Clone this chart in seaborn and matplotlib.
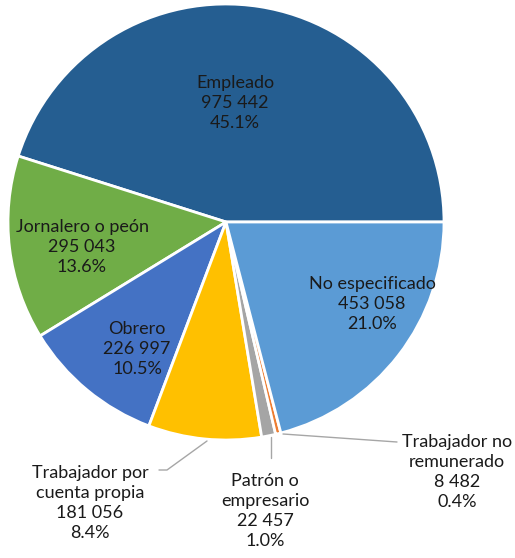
import matplotlib
matplotlib.use("Agg")
import matplotlib.pyplot as plt
import seaborn as sns

categories = ["Empleado", "Jornalero o peón", "Obrero", "Trabajador por\ncuenta propia",
              "Patrón o\nempresario", "Trabajador no\nremunerado", "No especificado"]
values = [975442, 295043, 226997, 181056, 22457, 8482, 453058]
value_labels = ["975 442", "295 043", "226 997", "181 056", "22 457", "8 482", "453 058"]
pct_labels = ["45.1%", "13.6%", "10.5%", "8.4%", "1.0%", "0.4%", "21.0%"]
colors = ["#255E91", "#70AD47", "#4472C4", "#FFC000", "#A5A5A5", "#ED7D31", "#5B9BD5"]

sns.set_style("white")
plt.rcParams["font.family"] = ["Lato", "DejaVu Sans"]

fig = plt.figure(figsize=(5.15, 5.58), dpi=100)
ax = fig.add_axes([0, 0, 1, 1])
R = 218.0
cx, cy = 226.0, 222.0
ax.pie(values, colors=colors, startangle=0, counterclock=True, radius=1.0,
       wedgeprops=dict(edgecolor="white", linewidth=2))
ax.set_xlim(-cx / R, (515 - cx) / R)
ax.set_ylim(-(558 - cy) / R, cy / R)
ax.set_aspect("equal")
ax.axis("off")

def d(px, py):
    return ((px - cx) / R, (cy - py) / R)

pos = [d(235, 103), d(82, 247), d(137, 349), d(90, 503), d(265, 511), d(457, 472), d(372, 304)]
for i, (c, v, p) in enumerate(zip(categories, value_labels, pct_labels)):
    txt = f"{c}\n{v}\n{p}"
    ax.text(pos[i][0], pos[i][1], txt, ha="center", va="center", fontsize=13,
            color="#1a1a1a", linespacing=1.3)

lc = "#A6A6A6"
lines = [
    [(207, 441), (167, 470), (159, 470)],
    [(271, 437), (271, 458)],
    [(283, 434), (397, 442)],
]
for ln in lines:
    xs, ys = zip(*[d(x, y) for x, y in ln])
    ax.plot(xs, ys, color=lc, lw=1)

fig.savefig("out.png", dpi=100, facecolor="white")
